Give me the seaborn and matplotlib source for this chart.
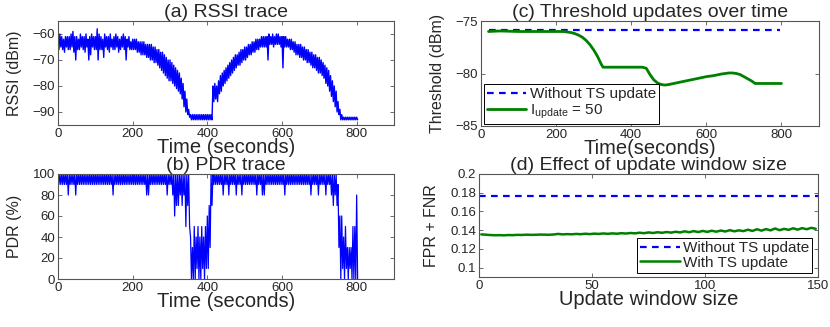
import matplotlib
matplotlib.use("Agg")
import matplotlib.pyplot as plt
from matplotlib.lines import Line2D
import seaborn as sns
import numpy as np

# (a) RSSI trace: upper and lower edge of the noisy band, every 5 s from 0 to 800 s
rssi_top = [
    -61, -60, -61, -62, -61, -61, -61, -60, -59, -61,
    -61, -62, -60, -61, -61, -60, -62, -61, -60, -61,
    -61, -58, -60, -61, -62, -60, -61, -61, -60, -62,
    -61, -60, -61, -62, -61, -60, -61, -62, -61, -63,
    -62, -62, -62, -63, -63, -63, -63, -64, -64, -64,
    -64, -65, -65, -66, -66, -67, -67, -68, -69, -70,
    -70, -71, -72, -73, -74, -75, -77, -79, -82, -85,
    -89, -91, -91, -91, -91, -91, -91, -91, -91, -91,
    -91, -91, -91, -80, -79, -80, -78, -76, -75, -74,
    -73, -72, -71, -70, -69, -68, -68, -67, -66, -66,
    -65, -65, -64, -64, -63, -63, -62, -62, -62, -61,
    -61, -61, -61, -60, -61, -60, -61, -60, -60, -61,
    -61, -61, -61, -62, -62, -62, -63, -63, -64, -64,
    -64, -65, -65, -66, -66, -67, -67, -68, -68, -69,
    -69, -70, -71, -72, -73, -74, -76, -78, -80, -82,
    -86, -89, -91, -92, -92, -92, -92, -92, -92, -92,
    -92,
]
rssi_bottom = [
    -66, -65, -66, -67, -65, -66, -66, -65, -67, -70,
    -66, -66, -65, -66, -67, -65, -70, -68, -65, -66,
    -66, -70, -66, -66, -69, -65, -66, -67, -65, -66,
    -66, -65, -67, -66, -65, -66, -70, -65, -66, -66,
    -66, -66, -67, -67, -68, -68, -68, -69, -69, -70,
    -70, -71, -71, -72, -73, -74, -75, -76, -77, -78,
    -78, -79, -80, -81, -82, -83, -85, -88, -90, -91,
    -92, -93, -93, -93, -93, -93, -93, -93, -93, -93,
    -93, -93, -93, -86, -85, -86, -83, -82, -80, -79,
    -78, -77, -76, -75, -74, -73, -72, -72, -71, -70,
    -70, -69, -68, -68, -67, -67, -66, -66, -65, -65,
    -65, -65, -70, -64, -64, -65, -64, -64, -64, -65,
    -73, -65, -65, -65, -66, -66, -67, -68, -68, -69,
    -69, -70, -70, -71, -71, -72, -73, -73, -74, -75,
    -75, -76, -77, -79, -80, -82, -84, -86, -88, -90,
    -91, -93, -93, -93, -93, -93, -93, -93, -93, -93,
    -93,
]

# (b) PDR trace: upper and lower edge, same 5 s sampling
pdr_top = [
    100, 100, 100, 100, 100, 100, 100, 100, 100, 100,
    100, 100, 100, 100, 100, 100, 100, 100, 100, 100,
    100, 100, 100, 100, 100, 100, 100, 100, 100, 100,
    100, 100, 100, 100, 100, 100, 100, 100, 100, 100,
    100, 100, 100, 100, 100, 100, 100, 100, 100, 100,
    100, 100, 100, 100, 100, 100, 100, 100, 100, 100,
    100, 100, 100, 100, 100, 100, 100, 100, 100, 100,
    100, 40, 30, 50, 40, 50, 40, 50, 40, 50,
    60, 70, 100, 100, 100, 100, 100, 100, 100, 100,
    100, 100, 100, 100, 100, 100, 100, 100, 100, 100,
    100, 100, 100, 100, 100, 100, 100, 100, 100, 100,
    100, 100, 100, 100, 100, 100, 100, 100, 100, 100,
    100, 100, 100, 100, 100, 100, 100, 100, 100, 100,
    100, 100, 100, 100, 100, 100, 100, 100, 100, 100,
    100, 100, 100, 100, 100, 100, 100, 100, 100, 100,
    90, 60, 60, 40, 50, 30, 30, 30, 50, 50,
    80,
]
pdr_bottom = [
    90, 90, 90, 90, 90, 80, 90, 90, 90, 80,
    90, 90, 90, 90, 90, 90, 90, 90, 90, 90,
    90, 90, 90, 90, 90, 90, 90, 90, 90, 80,
    90, 90, 90, 90, 90, 90, 90, 90, 90, 90,
    90, 90, 90, 90, 90, 90, 90, 80, 80, 90,
    90, 90, 90, 90, 90, 90, 90, 90, 80, 90,
    90, 80, 60, 70, 70, 80, 70, 80, 50, 70,
    50, 0, 0, 0, 10, 0, 0, 10, 0, 10,
    10, 30, 70, 90, 90, 90, 90, 90, 80, 90,
    90, 80, 90, 90, 90, 80, 90, 90, 80, 90,
    90, 90, 90, 90, 90, 90, 80, 90, 90, 80,
    80, 90, 90, 90, 90, 90, 90, 90, 90, 90,
    90, 80, 90, 90, 90, 90, 90, 90, 90, 90,
    90, 90, 90, 90, 90, 80, 90, 90, 90, 80,
    90, 90, 90, 80, 90, 90, 80, 70, 80, 70,
    30, 0, 10, 0, 10, 0, 10, 0, 0, 0,
    0,
]
trace_step_s = 5

# (c) threshold over time
thr_time = [20, 50, 100, 150, 200, 220, 230, 240, 250, 260, 270, 280, 290, 300,
            310, 320, 325, 380, 430, 440, 450, 460, 470, 480, 490, 500, 520,
            540, 560, 580, 600, 620, 640, 660, 670, 680, 690, 700, 710, 720,
            730, 735, 800]
thr_update = [-76.0, -75.95, -76.0, -76.0, -76.0, -76.0, -76.05, -76.1, -76.2,
              -76.35, -76.55, -76.85, -77.25, -77.75, -78.35, -79.1, -79.4,
              -79.4, -79.4, -79.5, -80.1, -80.6, -80.9, -81.05, -81.1, -81.05,
              -80.9, -80.75, -80.6, -80.45, -80.3, -80.2, -80.05, -79.95, -79.95,
              -80.0, -80.1, -80.3, -80.5, -80.7, -80.95, -80.95, -80.95]
thr_fixed_time = [20, 795]
thr_fixed = [-75.9, -75.9]

# (d) FPR + FNR vs update window size
win_size = list(range(1, 151, 2))
err_with_ts = [
    0.1355, 0.1352, 0.1348, 0.1346, 0.1347, 0.1345, 0.1348, 0.1347, 0.1350, 0.1349,
    0.1352, 0.1350, 0.1351, 0.1353, 0.1352,
    0.1351, 0.1354, 0.1360, 0.1355, 0.1358, 0.1356, 0.1360, 0.1357, 0.1362, 0.1358,
    0.1363, 0.1360, 0.1365, 0.1361, 0.1366,
    0.1362, 0.1368, 0.1364, 0.1370, 0.1366, 0.1373, 0.1368, 0.1376, 0.1370, 0.1378,
    0.1372, 0.1380, 0.1374, 0.1383, 0.1376,
    0.1388, 0.1378, 0.1390, 0.1380, 0.1392, 0.1382, 0.1394, 0.1384, 0.1396, 0.1386,
    0.1400, 0.1388, 0.1398, 0.1390, 0.1405,
    0.1392, 0.1410, 0.1395, 0.1412, 0.1398, 0.1418, 0.1400, 0.1414, 0.1404, 0.1420,
    0.1406, 0.1422, 0.1410, 0.1425, 0.1415,
]
err_without_ts = 0.176

BLUE = "#0000ff"
GREEN = "#008000"
DASH = (0, (3, 2.4))

sns.set_style("white")
plt.rcParams["font.family"] = ["Liberation Sans", "DejaVu Sans"]
plt.rcParams["mathtext.fontset"] = "custom"
plt.rcParams["mathtext.rm"] = "Liberation Sans"
plt.rcParams["xtick.direction"] = "in"
plt.rcParams["ytick.direction"] = "in"

TITLE_FS = 14
XLAB_FS = 14.5
YLAB_FS = 11.5
TICK_FS = 9.5
LEG_FS = 11


def style_axes(ax):
    for s in ax.spines.values():
        s.set_color("#555555")
        s.set_linewidth(0.8)
    ax.tick_params(which="both", top=True, right=True, bottom=True, left=True,
                   length=3, width=0.6, color="#555555", labelsize=TICK_FS, pad=2)


def zigzag(top, bottom, step):
    # alternate between the upper and lower edge of each sample window
    t = np.arange(len(top)) * step
    x = np.column_stack([t, t + step / 2]).ravel()
    y = np.column_stack([top, bottom]).ravel()
    return x, y


def boxed_legend(ax, handles, labels, loc, anchor):
    leg = ax.legend(handles, labels, loc=loc, bbox_to_anchor=anchor, borderaxespad=0,
                    fontsize=LEG_FS, handlelength=2.6, handletextpad=0.2,
                    labelspacing=0.05, borderpad=0.2, fancybox=False, framealpha=1)
    leg.get_frame().set_edgecolor("black")
    leg.get_frame().set_linewidth(0.7)
    return leg


W, H = 830, 327
fig = plt.figure(figsize=(W / 100, H / 100), dpi=100)


def axes_px(left, top, right, bottom):
    return fig.add_axes([left / W, (H - bottom) / H, (right - left) / W, (bottom - top) / H])


ax_a = axes_px(58, 21, 394, 125)
ax_b = axes_px(58, 174, 394, 279)
ax_c = axes_px(481, 21, 819, 126)
ax_d = axes_px(479, 174, 818, 277)

# (a)
xa, ya = zigzag(rssi_top, rssi_bottom, trace_step_s)
sns.lineplot(x=xa, y=ya, ax=ax_a, color=BLUE, lw=1.0, estimator=None)
ax_a.set_xlim(0, 900)
ax_a.set_ylim(-95, -55)
ax_a.set_xticks([0, 200, 400, 600, 800])
ax_a.set_yticks([-90, -80, -70, -60])
ax_a.set_yticklabels(["\u221290", "\u221280", "\u221270", "\u221260"])
ax_a.set_title("(a) RSSI trace", fontsize=TITLE_FS, pad=2)
ax_a.set_xlabel("Time (seconds)", fontsize=XLAB_FS, labelpad=-1)
ax_a.set_ylabel("RSSI (dBm)", fontsize=YLAB_FS, labelpad=8)

# (b)
xb, yb = zigzag(pdr_top, pdr_bottom, trace_step_s)
sns.lineplot(x=xb, y=yb, ax=ax_b, color=BLUE, lw=0.9, estimator=None)
ax_b.set_xlim(0, 900)
ax_b.set_ylim(0, 100)
ax_b.set_xticks([0, 200, 400, 600, 800])
ax_b.set_yticks([0, 20, 40, 60, 80, 100])
ax_b.set_title("(b) PDR trace", fontsize=TITLE_FS, pad=2)
ax_b.set_xlabel("Time (seconds)", fontsize=XLAB_FS, labelpad=-1)
ax_b.set_ylabel("PDR (%)", fontsize=YLAB_FS, labelpad=8)

# (c)
sns.lineplot(x=thr_fixed_time, y=thr_fixed, ax=ax_c, color=BLUE, lw=1.6, linestyle=DASH)
sns.lineplot(x=thr_time, y=thr_update, ax=ax_c, color=GREEN, lw=2.0)
ax_c.set_xlim(0, 900)
ax_c.set_ylim(-85, -75)
ax_c.set_xticks([0, 200, 400, 600, 800])
ax_c.set_yticks([-85, -80, -75])
ax_c.set_yticklabels(["\u221285", "\u221280", "\u221275"])
ax_c.set_title("(c) Threshold updates over time", fontsize=TITLE_FS, pad=2)
ax_c.set_xlabel("Time(seconds)", fontsize=XLAB_FS, labelpad=-1)
ax_c.set_ylabel("Threshold (dBm)", fontsize=YLAB_FS, labelpad=8)
boxed_legend(ax_c,
             [Line2D([], [], color=BLUE, lw=1.6, linestyle=DASH),
              Line2D([], [], color=GREEN, lw=2.0)],
             ["Without TS update", r"I$_{\mathrm{update}}$ = 50"],
             "lower left", (0.008, 0.02))

# (d)
sns.lineplot(x=[0, 150], y=[err_without_ts, err_without_ts], ax=ax_d, color=BLUE, lw=1.6,
             linestyle=DASH)
sns.lineplot(x=win_size, y=err_with_ts, ax=ax_d, color=GREEN, lw=1.8)
ax_d.set_xlim(0, 150)
ax_d.set_ylim(0.09, 0.2)
ax_d.set_xticks([0, 50, 100, 150])
ax_d.set_yticks([0.1, 0.12, 0.14, 0.16, 0.18, 0.2])
ax_d.set_yticklabels(["0.1", "0.12", "0.14", "0.16", "0.18", "0.2"])
ax_d.set_title("(d) Effect of update window size", fontsize=TITLE_FS, pad=2)
ax_d.set_xlabel("Update window size", fontsize=XLAB_FS, labelpad=-1)
ax_d.set_ylabel("FPR + FNR", fontsize=YLAB_FS, labelpad=8)
boxed_legend(ax_d,
             [Line2D([], [], color=BLUE, lw=1.6, linestyle=DASH),
              Line2D([], [], color=GREEN, lw=1.8)],
             ["Without TS update", "With TS update"],
             "lower right", (0.982, 0.04))

for ax in (ax_a, ax_b, ax_c, ax_d):
    style_axes(ax)

fig.savefig("out.png", dpi=100)
